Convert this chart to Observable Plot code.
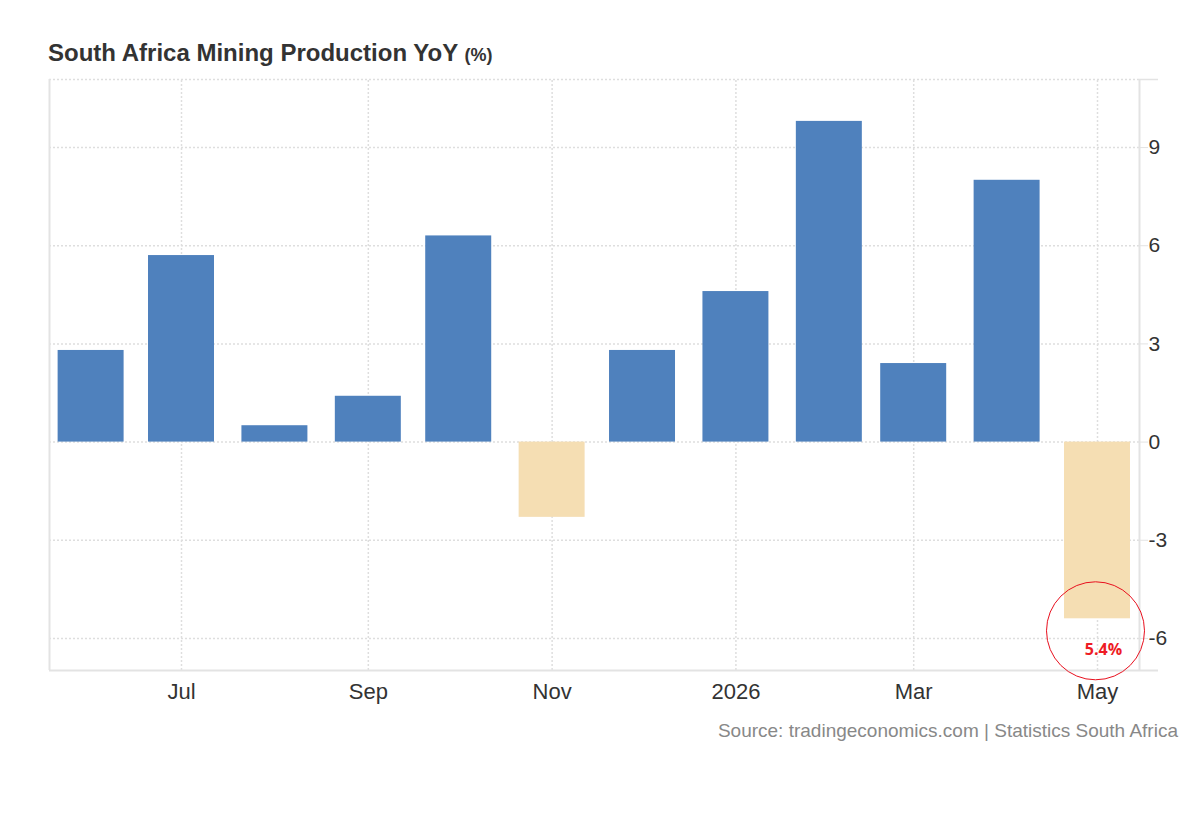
<!DOCTYPE html>
<html>
<head>
<meta charset="utf-8">
<script src="https://cdn.jsdelivr.net/npm/d3@7"></script>
<script src="https://cdn.jsdelivr.net/npm/@observablehq/plot@0.6"></script>
<style>
  html, body { margin: 0; padding: 0; background: #fff; }
  #wrap { position: relative; width: 1200px; height: 820px; font-family: "Liberation Sans", Arial, sans-serif; }
  #title { position: absolute; left: 48px; top: 39px; font-weight: bold; font-size: 24px; color: #333; white-space: nowrap; }
  #title span { font-size: 18px; }
  #chart { position: absolute; left: 0; top: 60px; }
  #source { position: absolute; right: 22px; top: 720px; font-size: 19px; color: #888; white-space: nowrap; }
</style>
</head>
<body>
<div id="wrap">
  <div id="title">South Africa Mining Production YoY <span>(%)</span></div>
  <div id="chart"></div>
  <div id="source">Source: tradingeconomics.com | Statistics South Africa</div>
</div>
<script>
// ---- data ----
const months = ["2025-06-01","2025-07-01","2025-08-01","2025-09-01","2025-10-01","2025-11-01",
                "2025-12-01","2026-01-01","2026-02-01","2026-03-01","2026-04-01","2026-05-01"];
const values = [2.8, 5.7, 0.5, 1.4, 6.3, -2.3, 2.8, 4.6, 9.8, 2.4, 8.0, -5.4];
const xTickDates = ["2025-07-01","2025-09-01","2025-11-01","2026-01-01","2026-03-01","2026-05-01"];
const xTickLabels = ["Jul","Sep","Nov","2026","Mar","May"];
const yTicks = [-6, -3, 0, 3, 6, 9];

// ---- build table ----
const data = months.map((m, i) => ({date: new Date(m), value: values[i]}));
const tickDates = xTickDates.map(d => new Date(d));
const labelMap = new Map(tickDates.map((d, i) => [+d, xTickLabels[i]]));
const last = data[data.length - 1];

const DAY = 864e5;
const halfBar = 10.95 * DAY;
const xStart = new Date(Date.UTC(2025, 4, 18, 4, 34));
const xEnd = new Date(Date.UTC(2026, 4, 14, 22, 30));
const xEndExt = new Date(+xEnd + 6.3 * DAY);
const yMin = -6.98, yMax = 11.08;

const blue = "#4f81bd", beige = "#f5deb3";
const gridColor = "#dedede", lineColor = "#e3e3e3";

const chart = Plot.plot({
  width: 1200,
  height: 660,
  marginLeft: 49,
  marginRight: 61,
  marginTop: 19,
  marginBottom: 50,
  style: {fontFamily: "'Liberation Sans', Arial, sans-serif", background: "transparent", overflow: "visible"},
  x: {type: "utc", domain: [xStart, xEnd]},
  y: {domain: [yMin, yMax]},
  marks: [
    // dotted grid
    Plot.ruleX(tickDates, {y1: yMin, y2: yMax, stroke: gridColor, strokeWidth: 1.5, strokeDasharray: "2,2"}),
    Plot.ruleY([...yTicks, yMax], {stroke: gridColor, strokeWidth: 1.5, strokeDasharray: "2,2"}),
    // frame lines
    Plot.ruleX([xStart], {y1: yMin, y2: yMax, stroke: lineColor, strokeWidth: 2}),
    Plot.ruleX([xEnd], {y1: yMin, y2: yMax, stroke: lineColor, strokeWidth: 2}),
    Plot.ruleY([yMin], {x1: xStart, x2: xEndExt, stroke: lineColor, strokeWidth: 2}),
    Plot.ruleY([yMax], {x1: xEnd, x2: xEndExt, stroke: lineColor, strokeWidth: 1.5}),
    // bars
    Plot.rectY(data.filter(d => d.value >= 0), {
      x1: d => new Date(+d.date - halfBar), x2: d => new Date(+d.date + halfBar),
      y1: 0, y2: "value", fill: blue
    }),
    Plot.rectY(data.filter(d => d.value < 0), {
      x1: d => new Date(+d.date - halfBar), x2: d => new Date(+d.date + halfBar),
      y1: 0, y2: "value", fill: beige
    }),
    // axes
    Plot.axisX({ticks: tickDates, tickSize: 0, tickPadding: 13, fontSize: 22, fill: "#333",
                tickFormat: d => labelMap.get(+d), label: null}),
    Plot.axisY({anchor: "right", ticks: yTicks, tickSize: 8, tickPadding: 1, fontSize: 21,
                stroke: lineColor, fill: "#333", tickFormat: d => String(d), label: null}),
    // annotation
    Plot.dot([last], {x: "date", y: "value", r: 49, dy: 12, dx: -2, fill: "none", stroke: "#e8101e", strokeWidth: 1}),
    Plot.text([last], {x: "date", y: "value", text: d => Math.abs(d.value).toFixed(1) + "%", dy: 31, dx: 6,
                       fill: "#ee1c25", fontWeight: "bold", fontSize: 16, fontFamily: "'Open Sans', sans-serif"})
  ]
});
document.getElementById("chart").appendChild(chart);
</script>
</body>
</html>
